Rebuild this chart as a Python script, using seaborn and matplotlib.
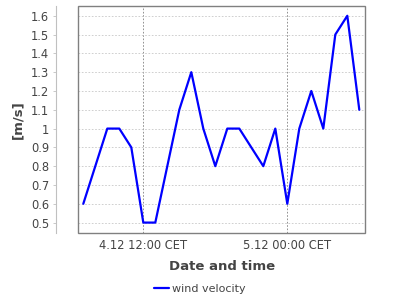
import matplotlib
matplotlib.use("Agg")
import matplotlib.pyplot as plt
import matplotlib.dates as mdates
from matplotlib.ticker import FuncFormatter, MultipleLocator
from matplotlib.patches import Rectangle
from matplotlib.lines import Line2D
import seaborn as sns
import pandas as pd

times = ["2013-12-04 07:00", "2013-12-04 09:00", "2013-12-04 10:00", "2013-12-04 11:00",
         "2013-12-04 12:00", "2013-12-04 13:00", "2013-12-04 15:00", "2013-12-04 16:00",
         "2013-12-04 17:00", "2013-12-04 18:00", "2013-12-04 19:00", "2013-12-04 20:00",
         "2013-12-04 22:00", "2013-12-04 23:00", "2013-12-05 00:00", "2013-12-05 01:00",
         "2013-12-05 02:00", "2013-12-05 03:00", "2013-12-05 04:00", "2013-12-05 05:00",
         "2013-12-05 06:00"]
velocity = [0.6, 1.0, 1.0, 0.9, 0.5, 0.5, 1.1, 1.3, 1.0, 0.8, 1.0, 1.0,
            0.8, 1.0, 0.6, 1.0, 1.2, 1.0, 1.5, 1.6, 1.1]
series_name = "wind velocity"
x_ticks = ["2013-12-04 12:00", "2013-12-05 00:00"]

df = pd.DataFrame({"time": pd.to_datetime(times), "v": velocity, "series": series_name})

sns.set_theme(style="white")
plt.rcParams['font.family'] = ['DejaVu Sans']

fig = plt.figure(figsize=(4, 3), dpi=100)
L, R, T, B = 78.3, 365.3, 6.0, 233.3
ax = fig.add_axes([L / 400, (300 - B) / 300, (R - L) / 400, (B - T) / 300])

sns.lineplot(data=df, x="time", y="v", hue="series", palette=["#0000ff"],
             linewidth=1.6, ax=ax, legend=False)

ax.set_xlim(pd.Timestamp("2013-12-04 06:35"), pd.Timestamp("2013-12-05 06:30"))
ax.set_ylim(0.443, 1.652)

ax.set_xticks([pd.Timestamp(t) for t in x_ticks])

def xfmt(x, pos):
    d = mdates.num2date(x)
    return f"{d.day}.{d.month} {d:%H:%M} CET"
ax.xaxis.set_major_formatter(FuncFormatter(xfmt))
ax.yaxis.set_major_locator(MultipleLocator(0.1))
ax.yaxis.set_major_formatter(FuncFormatter(lambda v, p: f"{round(v, 1):g}"))

ax.grid(False)
ax.yaxis.grid(True, color="#c8c8c8", linestyle=(0, (2, 2)), linewidth=0.6)
ax.xaxis.grid(True, color="#808080", linestyle=(0, (2, 2)), linewidth=0.6)

for s in ["top", "right", "bottom"]:
    ax.spines[s].set_visible(False)
ax.spines["left"].set_position(("outward", 15.7))
ax.spines["left"].set_color("#c0c0c0")
ax.spines["left"].set_linewidth(0.8)
ax.add_patch(Rectangle((0, 0), 1, 1, transform=ax.transAxes, fill=False,
                       edgecolor="#808080", linewidth=1.0, clip_on=False, zorder=5))

ax.tick_params(axis="y", length=2.2, width=0.6, color="#c0c0c0", labelsize=8.3,
               labelcolor="#444444", pad=3, left=True)
ax.tick_params(axis="x", length=0, labelsize=8.3, labelcolor="#444444", pad=4)

ax.set_ylabel("[m/s]", fontsize=9.5, fontweight="bold", color="#444444", labelpad=5)
ax.set_xlabel("Date and time", fontsize=9.5, fontweight="bold", color="#444444", labelpad=6)

handle = Line2D([], [], color="#0000ff", linewidth=1.6)
fig.legend([handle], [series_name], loc="center", bbox_to_anchor=(0.5, 1 - 289 / 300),
           frameon=False, fontsize=8, handlelength=1.3, handletextpad=0.3,
           labelcolor="#444444")

fig.savefig("out.png", dpi=100)
